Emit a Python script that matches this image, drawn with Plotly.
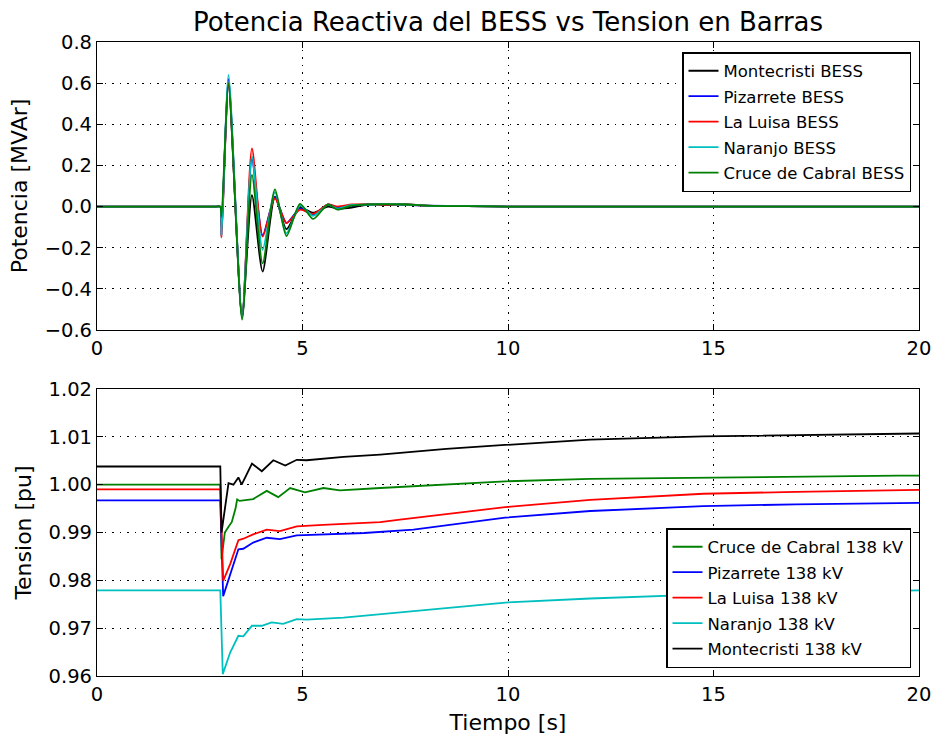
import plotly.graph_objects as go

# ---- Reactive power injected by each BESS [MVAr] ----
t_q = [0, 1.5, 2.9, 3.0, 3.03, 3.2, 3.53, 3.77, 4.03, 4.33, 4.61, 4.94, 5.26, 5.62, 5.85,
       6.2, 6.6, 7.0, 7.5, 8.0, 9.0, 10.0, 15.0, 20.0]
q_montecristi = [0, 0, 0, 0, -0.10, 0.59, -0.53, 0.056, -0.316, 0.048, -0.11, -0.005, -0.03,
                 0.0, -0.01, -0.005, 0.01, 0.008, 0.012, 0.005, 0.002, 0.0, 0.0, 0.0]
q_pizarrete = [0, 0, 0, 0, -0.14, 0.62, -0.54, 0.23, -0.14, 0.045, -0.08, -0.01, -0.04,
               0.01, -0.005, 0.005, 0.01, 0.012, 0.008, 0.005, 0.002, 0.0, 0.0, 0.0]
q_laluisa = [0, 0, 0, 0, -0.15, 0.60, -0.54, 0.283, -0.146, 0.04, -0.08, -0.015, -0.035,
             0.01, 0.0, 0.01, 0.012, 0.01, 0.01, 0.005, 0.002, 0.0, 0.0, 0.0]
q_naranjo = [0, 0, 0, 0, -0.14, 0.64, -0.54, 0.243, -0.21, 0.07, -0.13, 0.005, -0.045,
             0.008, -0.01, 0.008, 0.01, 0.012, 0.01, 0.005, 0.002, 0.0, 0.0, 0.0]
q_cruce = [0, 0, 0, 0, -0.05, 0.60, -0.55, 0.154, -0.276, 0.084, -0.143, 0.013, -0.06,
           0.01, -0.015, 0.005, 0.01, 0.012, 0.01, 0.005, 0.002, 0.0, 0.0, 0.0]

# ---- 138 kV bus voltages [pu] ----
t_v_cruce = [0, 3.0, 3.03, 3.11, 3.2, 3.28, 3.37, 3.41, 3.47, 3.59, 3.8, 4.13, 4.41,
             4.70, 5.06, 5.51, 5.91, 6.89, 7.37, 9.93, 12.0, 14.75, 17.0, 19.5, 20.0]
v_cruce = [1.0, 1.0, 0.9844, 0.990, 0.9912, 0.9922, 0.9950, 0.9969, 0.9966, 0.9967,
           0.997, 0.9987, 0.9974, 0.9993, 0.9984, 0.9993, 0.9988, 0.9993, 0.9995,
           1.0007, 1.0012, 1.0015, 1.0017, 1.0019, 1.0019]

t_v_pizarrete = [0, 3.0, 3.07, 3.24, 3.44, 3.56, 3.8, 4.13, 4.45, 4.86, 5.5, 6.5, 7.7,
                 9.93, 12.0, 14.75, 17.0, 19.5, 20.0]
v_pizarrete = [0.9967, 0.9967, 0.9767, 0.981, 0.9865, 0.9866, 0.9879, 0.9889, 0.9886,
               0.9894, 0.9896, 0.9899, 0.9906, 0.9931, 0.9945, 0.9955, 0.9959,
               0.9961, 0.9962]

t_v_laluisa = [0, 3.0, 3.07, 3.24, 3.44, 3.56, 3.8, 4.13, 4.45, 4.86, 5.5, 6.89, 7.37,
               8.5, 9.93, 12.0, 14.75, 17.0, 19.5, 20.0]
v_laluisa = [0.999, 0.999, 0.9799, 0.9834, 0.9884, 0.9887, 0.9896, 0.9906, 0.9903,
             0.9913, 0.9916, 0.99215, 0.9927, 0.9938, 0.9953, 0.9968, 0.9981,
             0.9985, 0.9988, 0.9989]

t_v_naranjo = [0, 3.0, 3.06, 3.24, 3.44, 3.56, 3.77, 4.01, 4.25, 4.53, 4.86, 5.1, 6.0,
               7.37, 8.5, 10.0, 12.0, 15.0, 17.5, 20.0]
v_naranjo = [0.9779, 0.9779, 0.9604, 0.9649, 0.9684, 0.9683, 0.9705, 0.9705, 0.9712,
             0.9709, 0.9719, 0.9718, 0.9722, 0.9733, 0.9743, 0.9754, 0.9762, 0.9771,
             0.9776, 0.9779]

t_v_montecristi = [0, 3.0, 3.03, 3.2, 3.32, 3.44, 3.52, 3.77, 4.01, 4.29, 4.58, 4.86,
                   5.1, 6.0, 6.89, 7.37, 8.5, 9.93, 12.0, 14.75, 17.0, 19.5, 20.0]
v_montecristi = [1.0038, 1.0038, 0.9900, 1.0003, 1.0000, 1.0015, 1.0000, 1.0044,
                 1.0028, 1.0051, 1.0040, 1.0052, 1.0051, 1.0058, 1.0063, 1.0067,
                 1.0075, 1.0083, 1.0094, 1.0101, 1.0104, 1.0107, 1.0107]

x_ticks = [0, 5, 10, 15, 20]
q_ticks = [0.8, 0.6, 0.4, 0.2, 0.0, -0.2, -0.4, -0.6]
v_ticks = [1.02, 1.01, 1.00, 0.99, 0.98, 0.97, 0.96]

BLACK, BLUE, RED, CYAN, GREEN = "#000000", "#0000ff", "#ff0000", "#00bfbf", "#008000"
LW = 1.8

fig = go.Figure()

top_series = [
    ("Montecristi BESS", q_montecristi, BLACK),
    ("Pizarrete BESS", q_pizarrete, BLUE),
    ("La Luisa BESS", q_laluisa, RED),
    ("Naranjo BESS", q_naranjo, CYAN),
    ("Cruce de Cabral BESS", q_cruce, GREEN),
]
for i, (name, vals, col) in enumerate(top_series):
    fig.add_trace(go.Scatter(
        x=t_q, y=vals, name=name, mode="lines",
        line=dict(color=col, width=LW, shape="spline", smoothing=0.7),
        xaxis="x", yaxis="y", legend="legend", legendgroup=f"q{i}",
    ))

bottom_series = [
    ("Cruce de Cabral 138 kV", t_v_cruce, v_cruce, GREEN),
    ("Pizarrete 138 kV", t_v_pizarrete, v_pizarrete, BLUE),
    ("La Luisa 138 kV", t_v_laluisa, v_laluisa, RED),
    ("Naranjo 138 kV", t_v_naranjo, v_naranjo, CYAN),
    ("Montecristi 138 kV", t_v_montecristi, v_montecristi, BLACK),
]
for i, (name, tt, vals, col) in enumerate(bottom_series):
    fig.add_trace(go.Scatter(
        x=tt, y=vals, name=name, mode="lines",
        line=dict(color=col, width=LW),
        xaxis="x2", yaxis="y2", legend="legend2", legendgroup=f"v{i}",
    ))

FONT = "DejaVu Sans"
tick_font = dict(family=FONT, size=19.5, color="black")
label_font = dict(family=FONT, size=22, color="black")
axis_common = dict(
    showline=True, linecolor="black", linewidth=1.2, mirror="ticks",
    ticks="inside", ticklen=6, tickwidth=1, tickcolor="black",
    showgrid=True, gridcolor="black", gridwidth=1, griddash="1.5px,6px",
    zeroline=False, tickfont=tick_font, automargin=False,
)

legend_common = dict(
    x=911 / 936, xanchor="right", bgcolor="white", bordercolor="black",
    borderwidth=1.5, font=dict(family=FONT, size=16.5, color="black"),
    tracegroupgap=1, itemwidth=30,
)

X_DOM = [97 / 936, 919 / 936]
fig.update_layout(
    width=936, height=735,
    margin=dict(l=0, r=0, t=0, b=0),
    paper_bgcolor="white", plot_bgcolor="white",
    font=dict(family=FONT, color="black"),
    title=dict(text="Potencia Reactiva del BESS vs Tension en Barras",
               x=508 / 936, xanchor="center", y=1 - 22 / 735, yanchor="middle",
               font=dict(family=FONT, size=26, color="black")),
    xaxis=dict(domain=X_DOM, range=[0, 20], tickvals=x_ticks, anchor="y", **axis_common),
    yaxis=dict(domain=[1 - 330 / 735, 1 - 42 / 735], range=[-0.6, 0.8],
               tickvals=q_ticks, tickformat=".1f", anchor="x",
               title=dict(text="Potencia [MVAr]", standoff=10, font=label_font),
               **axis_common),
    xaxis2=dict(domain=X_DOM, range=[0, 20], tickvals=x_ticks, anchor="y2",
                title=dict(text="Tiempo [s]", standoff=12, font=label_font),
                **axis_common),
    yaxis2=dict(domain=[1 - 676 / 735, 1 - 389 / 735], range=[0.96, 1.02],
                tickvals=v_ticks, tickformat=".2f", anchor="x2",
                title=dict(text="Tension [pu]", standoff=10, font=label_font),
                **axis_common),
    legend=dict(y=1 - 52 / 735, yanchor="top", **legend_common),
    legend2=dict(y=1 - 668 / 735, yanchor="bottom", **legend_common),
    showlegend=True,
)

fig.write_html("out.html")
